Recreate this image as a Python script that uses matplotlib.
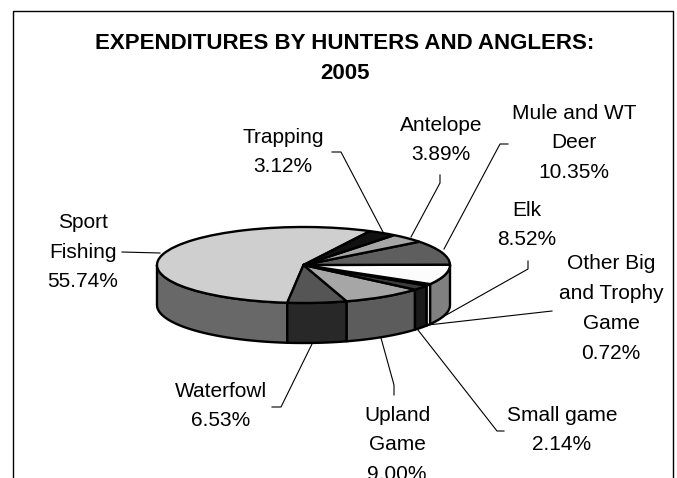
import matplotlib
matplotlib.use("Agg")
import numpy as np
import matplotlib.pyplot as plt
from matplotlib.patches import Polygon, Rectangle

plt.rcParams['font.family'] = ['Liberation Sans', 'DejaVu Sans']

categories = ["Sport\nFishing", "Waterfowl", "Upland\nGame", "Small game",
              "Other Big\nand Trophy\nGame", "Elk", "Mule and WT\nDeer", "Antelope", "Trapping"]
values = [55.74, 6.53, 9.00, 2.14, 0.72, 8.52, 10.35, 3.89, 3.12]
top_colors = ["#cfcfcf", "#555555", "#a6a6a6", "#3c3c3c", "#8a8a8a", "#fcfcfc", "#5e5e5e", "#a6a6a6", "#111111"]
side_colors = ["#686868", "#282828", "#5c5c5c", "#1a1a1a", "#e8e8e8", "#808080", "#5e5e5e", "#a6a6a6", "#111111"]
title = "EXPENDITURES BY HUNTERS AND ANGLERS:\n2005"

W, H = 677, 478
CX, CY, RX, RY, DEPTH = 303.5, 265.0, 146.5, 38.0, 40.0
START = 63.0

fig = plt.figure(figsize=(W / 100, H / 100), dpi=100, facecolor="white")

ov = fig.add_axes([0, 0, 1, 1], zorder=3)
ov.set_xlim(0, W); ov.set_ylim(H, 0); ov.axis("off"); ov.patch.set_alpha(0)

ax = fig.add_axes([0, 0, 1, 1], zorder=2)
ax.patch.set_alpha(0)
edge = dict(edgecolor="black", linewidth=1.7, joinstyle="round")

fracs = np.array(values) / sum(values)
edges = START + 360 * np.concatenate([[0], np.cumsum(fracs)])
d = DEPTH / RY
for i, col in enumerate(side_colors):
    a0, a1 = max(edges[i], 180), min(edges[i + 1], 360)
    if a1 <= a0:
        continue
    t = np.radians(np.linspace(a0, a1, 80))
    x, y = np.cos(t), np.sin(t)
    pts = np.r_[np.c_[x, y], np.c_[x, y - d][::-1]]
    ax.add_patch(Polygon(pts, closed=True, facecolor=col, zorder=1, **edge))

wedges, _ = ax.pie(values, startangle=START, counterclock=True, colors=top_colors,
                   wedgeprops=edge)
for w in wedges:
    w.set_zorder(2)
ax.set_aspect("auto")
ax.set_xlim((0 - CX) / RX, (W - CX) / RX)
ax.set_ylim((CY - H) / RY, CY / RY)
ax.axis("off")

ov.add_patch(Rectangle((13, 11), 660, 500, fill=False, edgecolor="black", linewidth=1.0))

ov.text(345, 58.5, title, ha="center", va="center", fontsize=16, fontweight="bold",
        linespacing=1.62, color="black")

label_pos = [(83, 252), (221, 406), (397, 445), (562, 430), (611, 308.5),
             (527, 225), (574, 143), (441, 140), (283, 152)]
label_spacing = [1.72, 1.72, 1.72, 1.72, 1.72, 1.65, 1.72, 1.72, 1.72]
for cat, v, (x, y), ls in zip(categories, values, label_pos, label_spacing):
    ov.text(x, y, f"{cat}\n{v:.2f}%", ha="center", va="center", fontsize=15,
            linespacing=ls, color="black")

leaders = [
    [(122, 252), (160, 253)],
    [(272, 407), (281, 407), (312, 344)],
    [(394, 395), (394, 385), (381, 338)],
    [(504, 431), (497, 431), (418, 330)],
    [(552, 311), (428, 325)],
    [(528, 261), (528, 269), (432, 323)],
    [(508, 144), (500, 144), (444, 249)],
    [(440, 175), (440, 183), (411, 237)],
    [(332, 152), (341, 152), (383, 232)],
]
for pts in leaders:
    xs, ys = zip(*pts)
    ov.plot(xs, ys, color="black", linewidth=0.8)

fig.savefig("out.png", dpi=100, facecolor="white")
